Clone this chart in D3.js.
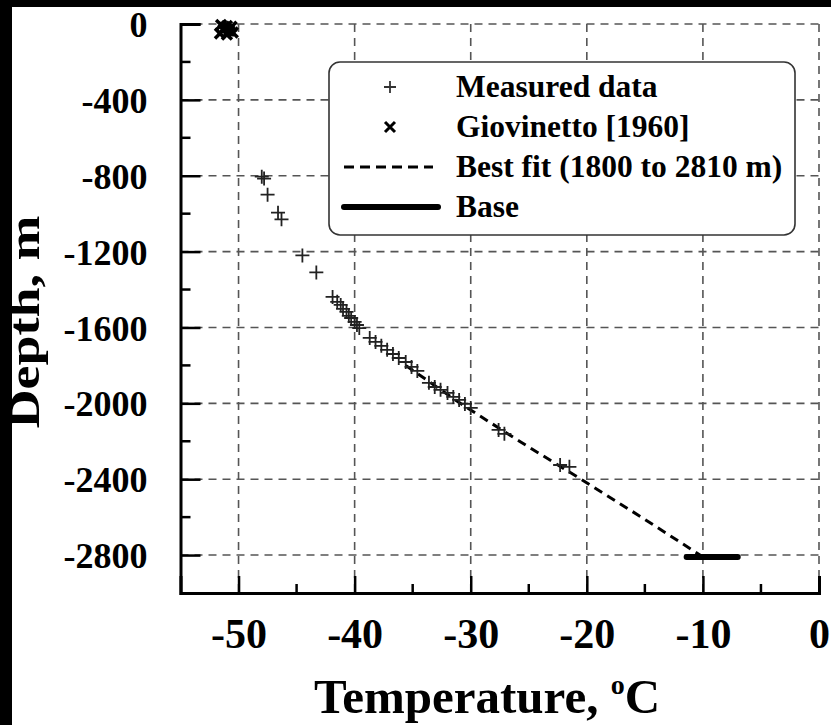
<!DOCTYPE html>
<html>
<head>
<meta charset="utf-8">
<script src="https://cdn.jsdelivr.net/npm/d3@7"></script>
<style>
  body { margin: 0; background: #fff; }
  text { font-family: "Liberation Serif", "Times New Roman", serif; font-weight: bold; fill: #000; }
</style>
</head>
<body>
<div class="chart"></div>
<script>
(function() {
	var width = 831,
		height = 725;

	// measured borehole temperatures [temperature C, depth m]
	var measuredTemp = [-48.0, -47.8, -47.5, -46.6, -46.3, -44.5, -43.3,
		-41.9, -41.5, -41.2, -41.0, -40.7, -40.5, -40.3, -40.0, -39.8, -39.6,
		-38.7, -38.2, -37.7, -37.2, -36.7, -36.2, -35.6, -35.1, -34.6,
		-33.6, -33.1, -32.6, -32.0, -31.5, -31.0, -30.5, -30.0,
		-27.6, -27.1, -22.3, -21.5];
	var measuredDepth = [-805, -815, -900, -995, -1030, -1220, -1310,
		-1439, -1465, -1481, -1502, -1518, -1539, -1550, -1571, -1587, -1603,
		-1655, -1676, -1697, -1718, -1740, -1761, -1782, -1808, -1829,
		-1892, -1914, -1929, -1945, -1966, -1982, -2003, -2024,
		-2140, -2161, -2325, -2335];

	var giovTemp = [-51.5, -51.0, -50.6, -51.3, -50.8, -51.6, -51.0, -50.5, -51.2];
	var giovDepth = [-5, -10, -15, -30, -35, -50, -55, -45, -20];

	var fitTemp = [-35.6, -30.9, -25.8, -20.5, -15.3, -10.0];
	var fitDepth = [-1800, -2000, -2200, -2400, -2600, -2810];

	var baseTemp = [-11.4, -7.0];
	var baseDepth = [-2810, -2810];

	var xTicks = [-50, -40, -30, -20, -10, 0],
		xMinor = [-45, -35, -25, -15, -5],
		yTicks = [0, -400, -800, -1200, -1600, -2000, -2400, -2800],
		yMinor = [-200, -600, -1000, -1400, -1800, -2200, -2600];

	var legendLabels = ["Measured data", "Giovinetto [1960]", "Best fit (1800 to 2810 m)", "Base"];

	var x = d3.scaleLinear().domain([-55, 0]).range([180.5, 819]);
	var y = d3.scaleLinear().domain([0, -3000]).range([24, 593]);

	var svg = d3.select(".chart").append("svg")
		.attr("width", width)
		.attr("height", height);

	svg.append("rect").attr("width", width).attr("height", height).attr("fill", "#fff");
	// dark scan border
	svg.append("rect").attr("width", width).attr("height", 7).attr("fill", "#000");
	svg.append("rect").attr("width", 12).attr("height", height).attr("fill", "#000");

	// grid
	var grid = svg.append("g")
		.attr("stroke", "#555")
		.attr("stroke-width", 1.6)
		.attr("stroke-dasharray", "8,6");
	grid.selectAll(".gx").data(xTicks).enter().append("line")
		.attr("x1", x).attr("x2", x)
		.attr("y1", y(0)).attr("y2", y(-3000));
	grid.selectAll(".gy").data(yTicks).enter().append("line")
		.attr("x1", x(-55)).attr("x2", x(0))
		.attr("y1", y).attr("y2", y);

	// axes (plain hyphen for negatives, as in the original)
	var fmt = function(d) { return String(d); };
	var yAxis = d3.axisLeft(y).tickValues(yTicks).tickSize(-20).tickPadding(33).tickFormat(fmt);
	var gy = svg.append("g").attr("transform", "translate(" + x(-55) + ",0)").call(yAxis);
	var xAxis = d3.axisBottom(x).tickValues(xTicks).tickSize(-17).tickPadding(25).tickFormat(fmt);
	var gx = svg.append("g").attr("transform", "translate(0," + y(-3000) + ")").call(xAxis);

	[gx, gy].forEach(function(g) {
		g.select(".domain").attr("stroke", "#000").attr("stroke-width", 3);
		g.selectAll(".tick line").attr("stroke", "#000").attr("stroke-width", 2.5);
	});
	gy.selectAll(".tick text").style("font-size", "36px").attr("dy", "0.35em");
	gx.selectAll(".tick text").style("font-size", "42px").attr("dy", "0.71em");

	svg.append("g").selectAll("line").data(yMinor).enter().append("line")
		.attr("x1", x(-55)).attr("x2", x(-55) + 10)
		.attr("y1", y).attr("y2", y)
		.attr("stroke", "#000").attr("stroke-width", 2.5);
	svg.append("g").selectAll("line").data(xMinor).enter().append("line")
		.attr("x1", x).attr("x2", x)
		.attr("y1", y(-3000)).attr("y2", y(-3000) - 9)
		.attr("stroke", "#000").attr("stroke-width", 2.5);

	// axis titles
	svg.append("text")
		.attr("transform", "translate(39,322) rotate(-90) scale(1.2,1)")
		.attr("text-anchor", "middle")
		.style("font-size", "45px")
		.text("Depth, m");
	var xt = svg.append("text")
		.attr("x", 487).attr("y", 713)
		.attr("text-anchor", "middle")
		.style("font-size", "49px");
	xt.append("tspan").text("Temperature, ");
	xt.append("tspan").attr("dy", -19).style("font-size", "28px").text("o");
	xt.append("tspan").attr("dy", 19).text("C");

	// best fit and base
	var line = d3.line()
		.x(function(d) { return x(d[0]); })
		.y(function(d) { return y(d[1]); });
	svg.append("path")
		.datum(d3.zip(fitTemp, fitDepth))
		.attr("d", line)
		.attr("fill", "none")
		.attr("stroke", "#000")
		.attr("stroke-width", 3)
		.attr("stroke-dasharray", "9,6");
	svg.append("path")
		.datum(d3.zip(baseTemp, baseDepth))
		.attr("d", line)
		.attr("fill", "none")
		.attr("stroke", "#000")
		.attr("stroke-width", 6)
		.attr("stroke-linecap", "round");

	function plus(s) {
		return "M" + (-s) + ",0H" + s + "M0," + (-s) + "V" + s;
	}
	function cross(s) {
		return "M" + (-s) + "," + (-s) + "L" + s + "," + s + "M" + (-s) + "," + s + "L" + s + "," + (-s);
	}

	svg.append("g").selectAll("path")
		.data(d3.zip(measuredTemp, measuredDepth))
		.enter().append("path")
		.attr("transform", function(d) { return "translate(" + x(d[0]) + "," + y(d[1]) + ")"; })
		.attr("d", plus(7))
		.attr("stroke", "#222")
		.attr("stroke-width", 1.8)
		.attr("fill", "none");

	svg.append("g").selectAll("path")
		.data(d3.zip(giovTemp, giovDepth))
		.enter().append("path")
		.attr("transform", function(d) { return "translate(" + x(d[0]) + "," + y(d[1]) + ")"; })
		.attr("d", cross(5))
		.attr("stroke", "#000")
		.attr("stroke-width", 3.5)
		.attr("fill", "none");

	// legend
	var legend = svg.append("g");
	legend.append("rect")
		.attr("x", 329).attr("y", 62)
		.attr("width", 466).attr("height", 173)
		.attr("rx", 11)
		.attr("fill", "#fff")
		.attr("stroke", "#333")
		.attr("stroke-width", 1.6);
	var rows = legend.selectAll(".row").data(legendLabels).enter().append("g")
		.attr("transform", function(d, i) { return "translate(0," + (87 + i * 40) + ")"; });
	rows.append("text")
		.attr("x", 456).attr("y", 10)
		.style("font-size", "31.5px")
		.text(function(d) { return d; });
	rows.filter(function(d, i) { return i === 0; }).append("path")
		.attr("transform", "translate(390,0)").attr("d", plus(6))
		.attr("stroke", "#333").attr("stroke-width", 1.8);
	rows.filter(function(d, i) { return i === 1; }).append("path")
		.attr("transform", "translate(390,0)").attr("d", cross(5))
		.attr("stroke", "#000").attr("stroke-width", 3);
	rows.filter(function(d, i) { return i === 2; }).append("line")
		.attr("x1", 344).attr("x2", 433)
		.attr("stroke", "#000").attr("stroke-width", 3).attr("stroke-dasharray", "10,6");
	rows.filter(function(d, i) { return i === 3; }).append("line")
		.attr("x1", 344).attr("x2", 438)
		.attr("stroke", "#000").attr("stroke-width", 6).attr("stroke-linecap", "round");
})();
</script>
</body>
</html>
